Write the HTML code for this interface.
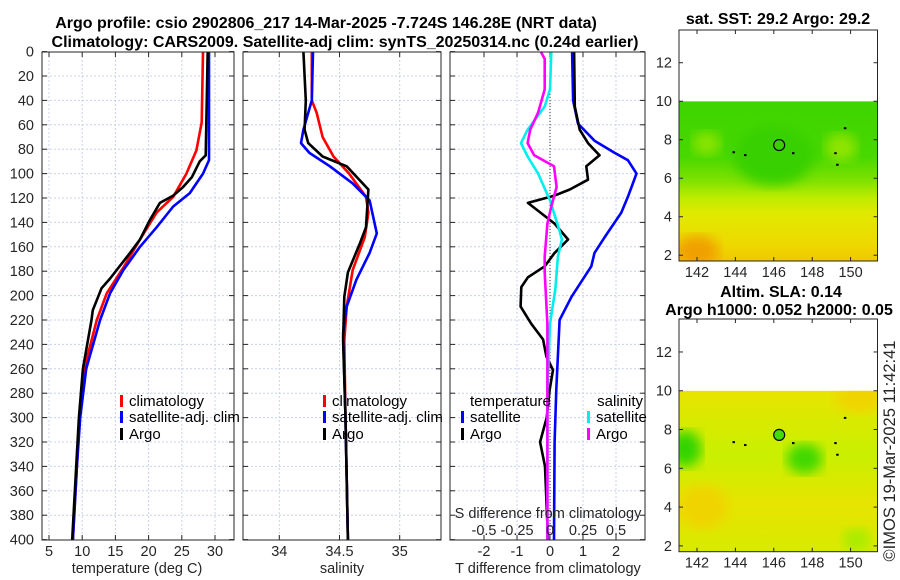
<!DOCTYPE html>
<html><head><meta charset="utf-8"><style>
html,body{margin:0;padding:0;background:#fff;}
svg{display:block;font-family:"Liberation Sans",sans-serif;}
.tk{font-size:14.5px;fill:#262626;}
.ttl{font-size:16px;font-weight:bold;fill:#000;}
.lg{font-size:15px;fill:#000;}
</style></head><body>
<svg id="chart" width="900" height="580" viewBox="0 0 900 580"></svg>
<script>
// ---- data (depth in m) ----
const blkTdep=[0,85,90,103,111,118,124,138,154,165,186,194,212,220,260,300,340,400];
const blkT=[28.9,28.6,27.7,26.5,25.2,23.7,21.7,20.2,18.7,17.2,14.2,12.9,11.6,11.4,10.1,9.5,9.1,8.5];
const redTdep=[0,58,81,100,119,132,154,177,198,220,260,300,340,400];
const redT=[28.2,28.0,27.2,25.7,23.7,21.2,18.7,16.2,13.7,12.2,10.3,9.6,9.2,8.6];
const bluTdep=[0,89,100,116,127,144,160,179,198,220,260,300,340,400];
const bluT=[29.1,29.1,28.2,26.2,23.7,21.2,18.7,16.2,14.2,12.7,10.6,9.7,9.2,8.6];

const blkSdep=[0,40,64,75,86,94,113,144,157,181,201,237,300,400];
const blkS=[34.20,34.22,34.21,34.24,34.36,34.56,34.74,34.72,34.67,34.57,34.54,34.53,34.55,34.57];
const redSdep=[0,40,50,70,86,100,119,132,152,179,209,237,300,400];
const redS=[34.27,34.27,34.31,34.36,34.45,34.58,34.72,34.74,34.71,34.61,34.56,34.54,34.55,34.57];
const bluSdep=[0,40,64,75,83,94,108,122,149,165,187,209,231,300,400];
const bluS=[34.28,34.27,34.20,34.18,34.25,34.42,34.61,34.75,34.81,34.75,34.64,34.56,34.53,34.55,34.57];

const dTargoDep=[0,45,64,75,85,94,105,113,118,124,141,154,165,176,185,193,209,223,236,250,261,277,300,320,340,360,380,400];
const dTargo=[0.73,0.75,0.9,1.15,1.5,1.1,1.15,0.6,0.14,-0.67,0.14,0.55,0.14,-0.16,-0.67,-0.87,-0.89,-0.57,-0.21,-0.11,0.09,-0.01,-0.1,-0.3,-0.15,-0.12,-0.09,-0.06];
const dTsatDep=[0,40,59,73,83,89,100,119,132,152,165,176,201,220,277,320,400];
const dTsat=[0.67,0.7,0.85,1.35,1.96,2.36,2.62,2.36,2.16,1.66,1.35,1.25,0.65,0.29,0.19,0.14,0.12];
const dSsatDep=[0,31,45,64,75,86,100,122,146,154,168,195,223,277,400];
const dSsat=[0.01,0,-0.04,-0.17,-0.22,-0.17,-0.09,0,0.07,0.09,0.06,0.04,0,-0.02,-0.02];
const dSargoDep=[0,6,31,50,64,75,85,94,111,127,141,168,181,223,400];
const dSargo=[-0.07,-0.04,-0.04,-0.09,-0.15,-0.17,-0.12,0.03,0.05,0.01,-0.02,-0.04,-0.04,-0.02,-0.02];

const depthTicks=[0,20,40,60,80,100,120,140,160,180,200,220,240,260,280,300,320,340,360,380,400];
const tTicks=[5,10,15,20,25,30];
const sTicks=[34,34.5,35];
const dtTicks=[-2,-1,0,1,2];
const dsTicks=[-0.5,-0.25,0,0.25,0.5];
const dsLabels=["-0.5","-0.25","0","0.25","0.5"];
const latTicks=[2,4,6,8,10,12];
const lonTicks=[142,144,146,148,150];
const argoLon=146.28, argoLat=7.724;

// ---- scales ----
const yD=d=>51.6+d*1.22;
const xT=t=>49+(t-5)*6.64;
const xS=s=>279.3+(s-34)*120.4;
const xdT=t=>550+t*33;
const xdS=s=>550+s*132;
const P=[{x0:42,x1:234,name:'temperature'},{x0:243,x1:441,name:'salinity'},{x0:450,x1:645,name:'difference'}];

const NS='http://www.w3.org/2000/svg';
const svg=document.getElementById('chart');
function mk(tag,at,parent){const e=document.createElementNS(NS,tag);for(const k in at)e.setAttribute(k,at[k]);(parent||svg).appendChild(e);return e;}
function txt(s,at,parent){const e=mk('text',at,parent);e.textContent=s;return e;}

P.forEach((p,i)=>{
  const g=mk('g',{});
  
  
  depthTicks.forEach(d=>{
    if(d>0&&d<400) mk('line',{x1:p.x0,x2:p.x1,y1:yD(d),y2:yD(d),stroke:'#c9d0ea','stroke-width':1,'stroke-dasharray':'2,2'},g);
    mk('line',{x1:p.x0,x2:p.x0+5,y1:yD(d),y2:yD(d),stroke:'#262626'},g);
    mk('line',{x1:p.x1-5,x2:p.x1,y1:yD(d),y2:yD(d),stroke:'#262626'},g);
  });
});
function vgrid(xs,p){xs.forEach(x=>{mk('line',{x1:x,x2:x,y1:52,y2:540,stroke:'#c9d0ea','stroke-dasharray':'2,2'});mk('line',{x1:x,x2:x,y1:540,y2:535,stroke:'#262626'});mk('line',{x1:x,x2:x,y1:52,y2:57,stroke:'#262626'});});}
vgrid(tTicks.map(xT));vgrid(sTicks.map(xS));vgrid(dtTicks.map(xdT));
mk('line',{x1:550,x2:550,y1:52,y2:540,stroke:'#333','stroke-width':1,'stroke-dasharray':'1,2'});

depthTicks.forEach(d=>{const t=txt(String(d),{x:34,y:yD(d)+5,'text-anchor':'end',class:'tk'});

});
tTicks.forEach(v=>txt(String(v),{x:xT(v),y:556,'text-anchor':'middle',class:'tk'}));
sTicks.forEach(v=>txt(String(v),{x:xS(v),y:556,'text-anchor':'middle',class:'tk'}));
dtTicks.forEach(v=>txt(String(v),{x:xdT(v),y:556,'text-anchor':'middle',class:'tk'}));
let xl=txt('temperature (deg C)',{x:137,y:573,'text-anchor':'middle',class:'tk'});

xl=txt('salinity',{x:342,y:573,'text-anchor':'middle',class:'tk'});

xl=txt('T difference from climatology',{x:548,y:573,'text-anchor':'middle',class:'tk'});


function line(deps,vals,sx,color,name,w){
  const pts=deps.map((d,i)=>sx(vals[i]).toFixed(1)+','+yD(d).toFixed(1)).join(' ');
  const e=mk('polyline',{points:pts,fill:'none',stroke:color,'stroke-width':w||2.6,'stroke-linejoin':'round'});
  
  
}
line(redTdep,redT,xT,'#ff0000','temp-climatology-line');
line(bluTdep,bluT,xT,'#0000ff','temp-satellite-line');
line(blkTdep,blkT,xT,'#000000','temp-argo-line');
line(redSdep,redS,xS,'#ff0000','sal-climatology-line');
line(bluSdep,bluS,xS,'#0000ff','sal-satellite-line');
line(blkSdep,blkS,xS,'#000000','sal-argo-line');
line(dTsatDep,dTsat,xdT,'#0000ff','dt-satellite-line');
line(dTargoDep,dTargo,xdT,'#000000','dt-argo-line');
line(dSsatDep,dSsat,xdS,'#00eeee','ds-satellite-line');
line(dSargoDep,dSargo,xdS,'#ff00ff','ds-argo-line');

txt('S difference from climatology',{x:548,y:518,'text-anchor':'middle',class:'tk'});
dsTicks.forEach((v,i)=>txt(dsLabels[i],{x:xdS(v),y:535,'text-anchor':'middle',class:'tk'}));

P.forEach(p=>mk('rect',{x:p.x0,y:52,width:p.x1-p.x0,height:488,fill:'none',stroke:'#262626','stroke-width':1}));

function leg(x,y,color,label,name){
  mk('rect',{x:x,y:y-11,width:3,height:12,fill:color});
  const t=txt(label,{x:x+9,y:y,class:'lg'});
  
  
}
[[120,'temperature'],[323,'salinity']].forEach(([x,n])=>{
  leg(x,406,'#ff0000','climatology',n+'-legend-climatology');
  leg(x,422,'#0000ff','satellite-adj. clim',n+'-legend-satellite');
  leg(x,439,'#000000','Argo',n+'-legend-argo');
});
txt('temperature',{x:470,y:406,class:'lg'});
txt('salinity',{x:643,y:406,'text-anchor':'end',class:'lg'});
leg(461,422,'#0000ff','satellite','dt-legend-satellite');
leg(461,439,'#000000','Argo','dt-legend-argo');
leg(587,422,'#00eeee','satellite','ds-legend-satellite');
leg(587,439,'#ff00ff','Argo','ds-legend-argo');

let tt=txt('Argo profile: csio 2902806_217 14-Mar-2025 -7.724S 146.28E (NRT data)',{x:326,y:28,'text-anchor':'middle',class:'ttl'});

tt=txt('Climatology: CARS2009. Satellite-adj clim: synTS_20250314.nc (0.24d earlier)',{x:345,y:47,'text-anchor':'middle',class:'ttl'});


const defs=mk('defs',{});
defs.innerHTML=`
<linearGradient id="sstG" x1="0" y1="0" x2="0" y2="1">
<stop offset="0" stop-color="#3fd400"/><stop offset="0.35" stop-color="#48d800"/>
<stop offset="0.5" stop-color="#80e200"/><stop offset="0.6" stop-color="#bcec00"/>
<stop offset="0.7" stop-color="#e0ea00"/><stop offset="0.9" stop-color="#eed800"/><stop offset="1" stop-color="#f0c800"/></linearGradient>
<linearGradient id="slaG" x1="0" y1="0" x2="0" y2="1">
<stop offset="0" stop-color="#e8e400"/><stop offset="0.4" stop-color="#c8f000"/>
<stop offset="0.7" stop-color="#e6e400"/><stop offset="1" stop-color="#d8ea00"/></linearGradient>
<filter id="bl"><feGaussianBlur stdDeviation="6"/></filter>`;
function map(top,bot,id){
  const x0=679,x1=877.5;
  const latY=l=>top+ (13.7-l)*( (bot-top)/12 );
  const lonX=l=>697+(l-142)*19.2;
  const g=mk('g',{});
  
  
  const cp=mk('clipPath',{id:id+'c'},defs);mk('rect',{x:x0,y:latY(10),width:x1-x0,height:bot-latY(10)},cp);
  const f=mk('g',{'clip-path':'url(#'+id+'c)'},g);
  if(id==='sst-map'){
    mk('rect',{x:x0,y:latY(10),width:x1-x0,height:bot-latY(10),fill:'url(#sstG)'},f);
    mk('ellipse',{cx:lonX(142),cy:latY(2.2),rx:22,ry:16,fill:'#f0a000',filter:'url(#bl)'},f);
    mk('ellipse',{cx:lonX(146),cy:latY(7.2),rx:40,ry:30,fill:'#38d000',filter:'url(#bl)'},f);
    mk('ellipse',{cx:lonX(142.5),cy:latY(7.8),rx:14,ry:12,fill:'#8ae400',filter:'url(#bl)'},f);
    mk('ellipse',{cx:lonX(149.5),cy:latY(7.6),rx:16,ry:14,fill:'#90e400',filter:'url(#bl)'},f);
  } else {
    mk('rect',{x:x0,y:latY(10),width:x1-x0,height:bot-latY(10),fill:'url(#slaG)'},f);
    mk('ellipse',{cx:lonX(142.3),cy:latY(4),rx:25,ry:22,fill:'#f0d400',filter:'url(#bl)'},f);
    mk('ellipse',{cx:lonX(150.5),cy:latY(9.6),rx:25,ry:14,fill:'#f0d400',filter:'url(#bl)'},f);
    mk('ellipse',{cx:lonX(141.4),cy:latY(7),rx:16,ry:18,fill:'#30d400',filter:'url(#bl)'},f);
    mk('ellipse',{cx:lonX(147.6),cy:latY(6.5),rx:18,ry:15,fill:'#40d800',filter:'url(#bl)'},f);
    mk('ellipse',{cx:lonX(150.3),cy:latY(2.3),rx:14,ry:12,fill:'#a8ec00',filter:'url(#bl)'},f);
  }
  [[143.9,7.35],[144.5,7.2],[147,7.3],[149.2,7.3],[149.7,8.6],[149.3,6.7]].forEach(([a,b])=>mk('rect',{x:lonX(a)-1,y:latY(b)-1,width:2.5,height:2,fill:'#000'},g));
  const c=mk('circle',{cx:lonX(argoLon),cy:latY(argoLat),r:5.5,fill:id==='sst-map'?'none':'#44dd00',stroke:'#000','stroke-width':1.2},g);
  
  
  mk('rect',{x:x0,y:top,width:x1-x0,height:bot-top,fill:'none',stroke:'#262626'},g);
  latTicks.forEach(l=>{const y=latY(l);mk('line',{x1:x0,x2:x0+4,y1:y,y2:y,stroke:'#262626'},g);mk('line',{x1:x1-4,x2:x1,y1:y,y2:y,stroke:'#262626'},g);txt(String(l),{x:672,y:y+5,'text-anchor':'end',class:'tk'},g);});
  lonTicks.forEach(l=>{const x=lonX(l);mk('line',{x1:x,x2:x,y1:bot,y2:bot-4,stroke:'#262626'},g);mk('line',{x1:x,x2:x,y1:top,y2:top+4,stroke:'#262626'},g);txt(String(l),{x:x,y:bot+16,'text-anchor':'middle',class:'tk'},g);});
}
map(30,261,'sst-map');
map(319,551.7,'sla-map');
tt=txt('sat. SST: 29.2 Argo: 29.2',{x:778,y:24,'text-anchor':'middle',class:'ttl'});

tt=txt('Altim. SLA: 0.14',{x:781,y:297,'text-anchor':'middle',class:'ttl'});

tt=txt('Argo h1000: 0.052 h2000: 0.05',{x:779,y:315,'text-anchor':'middle',class:'ttl'});

tt=txt('©IMOS 19-Mar-2025 11:42:41',{x:0,y:0,'text-anchor':'middle',class:'tk',style:'font-size:16.5px',transform:'translate(895,451) rotate(-90)'});

</script>
</body></html>
